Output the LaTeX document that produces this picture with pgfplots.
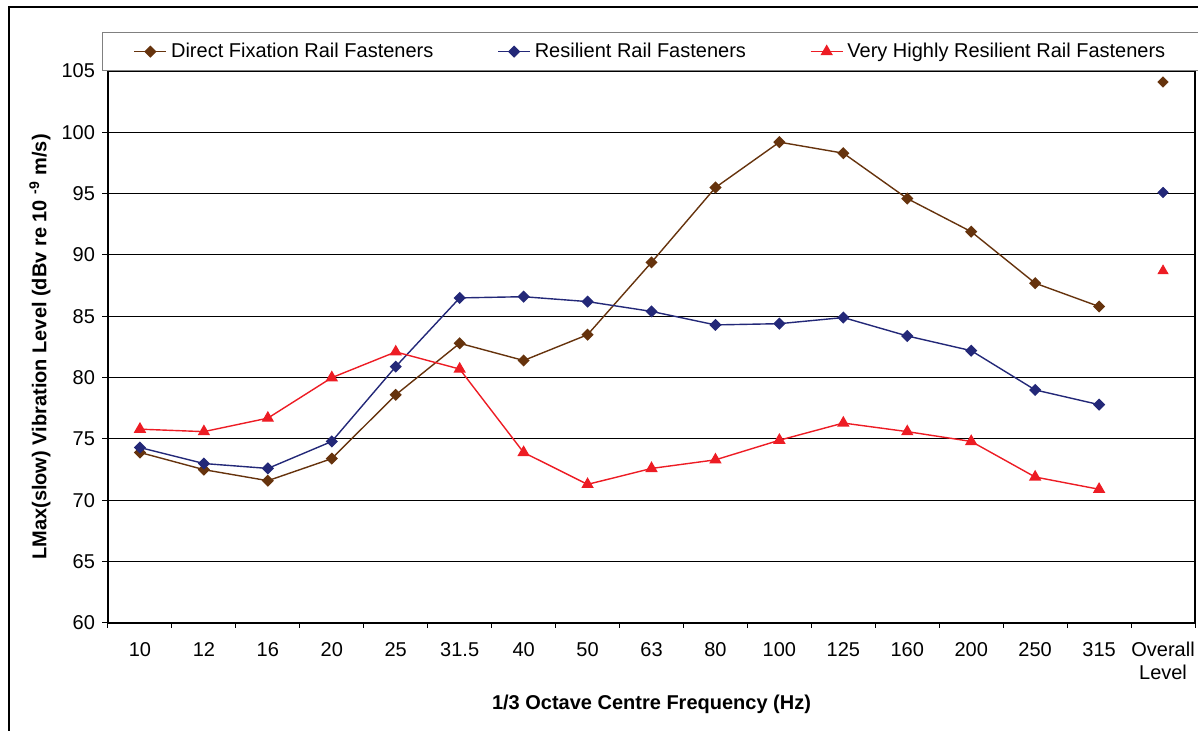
\documentclass[border=0pt]{standalone}
\usepackage{pgfplots}
\pgfplotsset{compat=1.18}
\usepackage{fontspec}
\setmainfont{Liberation Sans}
\definecolor{cbrown}{RGB}{102,51,13}
\definecolor{cblue}{RGB}{35,40,120}
\definecolor{cred}{RGB}{237,28,36}
\begin{document}
\begin{tikzpicture}
\useasboundingbox (0,0) rectangle (599pt,365.5pt);
\draw[line width=0.6pt] (4.5pt,0pt) -- (4.5pt,362pt) -- (599pt,362pt);
\begin{axis}[
  at={(54pt,54pt)}, anchor=south west,
  scale only axis, width=543.5pt, height=276pt,
  xmin=-0.5, xmax=16.5, ymin=60, ymax=105,
  xtick={0,...,16},
  xticklabels={10,12,16,20,25,31.5,40,50,63,80,100,125,160,200,250,315,{Overall\\Level}},
  minor xtick={-0.5,0.5,...,16.5},
  major x tick style={draw=none},
  ytick={60,65,...,105},
  tick align=outside, tick pos=left,
  major tick length=3pt, minor tick length=2.5pt,
  tick style={black, line width=0.5pt},
  ymajorgrids, grid style={black, line width=0.5pt},
  axis line style={black, line width=0.6pt},
  /pgf/number format/assume math mode=true,
  xticklabel style={align=center, font=\fontsize{10}{11.5}\selectfont, yshift=-3pt},
  yticklabel style={font=\fontsize{10}{12}\selectfont},
  xlabel={1/3 Octave Centre Frequency (Hz)},
  ylabel={LMax(slow) Vibration Level (dBv re 10 \textsuperscript{-9} m/s)},
  xlabel style={font=\bfseries\fontsize{10}{12}\selectfont, at={(axis description cs:0.5,-0.1467)}, anchor=center},
  ylabel style={font=\bfseries\fontsize{10}{12}\selectfont, at={(axis description cs:-0.0626,0.5)}, anchor=center},
  legend style={at={(0.5,1)}, anchor=south, legend columns=3, draw=gray, line width=0.6pt,
    font=\fontsize{10}{12}\selectfont, inner xsep=15.5pt, inner ysep=3pt,
    /tikz/every even column/.append style={column sep=30pt}},
  legend cell align=left,
  legend image code/.code={\draw[mark repeat=2,mark phase=2,#1] plot coordinates {(0pt,0pt) (8pt,0pt) (16pt,0pt)};},
]
\addplot[cbrown, line width=0.7pt, mark=square*, mark size=1.8pt, mark options={rotate=45, solid}] coordinates {
(0,73.9) (1,72.5) (2,71.6) (3,73.4) (4,78.6) (5,82.8) (6,81.4) (7,83.5) (8,89.4) (9,95.5) (10,99.2) (11,98.3) (12,94.6) (13,91.9) (14,87.7) (15,85.8)};
\addlegendentry{Direct Fixation Rail Fasteners}
\addplot[cblue, line width=0.7pt, mark=square*, mark size=1.8pt, mark options={rotate=45, solid}] coordinates {
(0,74.3) (1,73.0) (2,72.6) (3,74.8) (4,80.9) (5,86.5) (6,86.6) (7,86.2) (8,85.4) (9,84.3) (10,84.4) (11,84.9) (12,83.4) (13,82.2) (14,79.0) (15,77.8)};
\addlegendentry{Resilient Rail Fasteners}
\addplot[cred, line width=0.7pt, mark=triangle*, mark size=2.9pt, mark options={solid}] coordinates {
(0,75.8) (1,75.6) (2,76.7) (3,80.0) (4,82.1) (5,80.7) (6,73.9) (7,71.3) (8,72.6) (9,73.3) (10,74.9) (11,76.3) (12,75.6) (13,74.8) (14,71.9) (15,70.9)};
\addlegendentry{Very Highly Resilient Rail Fasteners}
\addplot[cbrown, only marks, mark=square*, mark size=1.8pt, mark options={rotate=45}, forget plot] coordinates {(16,104.1)};
\addplot[cblue, only marks, mark=square*, mark size=1.8pt, mark options={rotate=45}, forget plot] coordinates {(16,95.1)};
\addplot[cred, only marks, mark=triangle*, mark size=2.9pt, forget plot] coordinates {(16,88.7)};
\end{axis}
\end{tikzpicture}
\end{document}
